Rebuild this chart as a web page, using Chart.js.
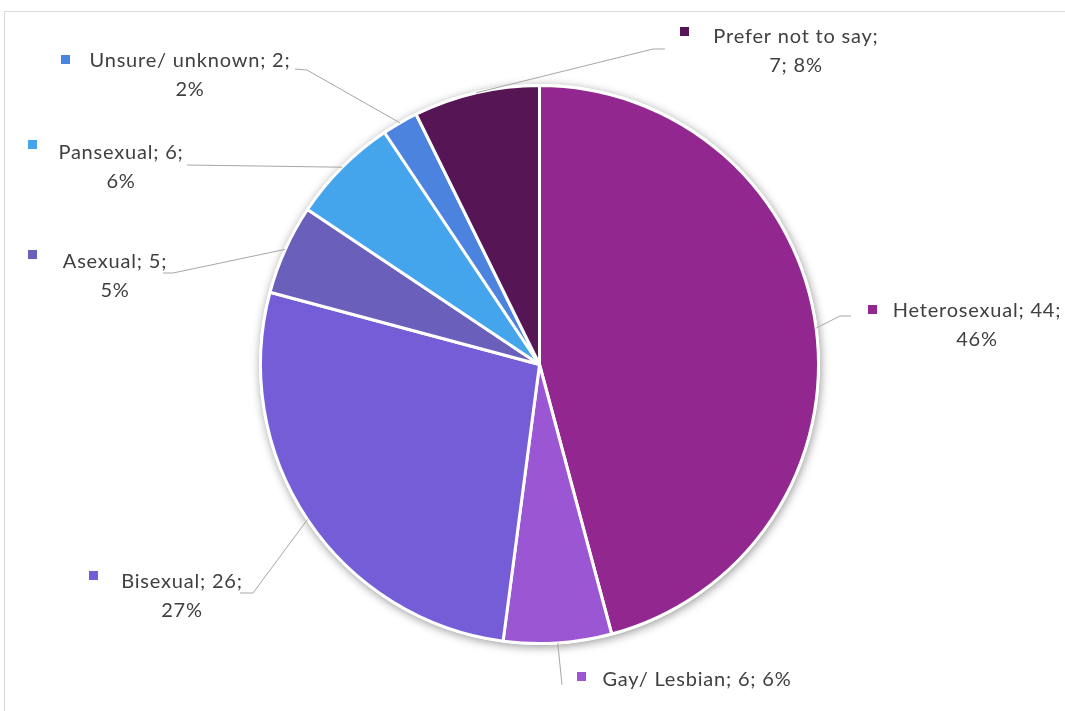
<!DOCTYPE html>
<html>
<head>
<meta charset="utf-8">
<script src="https://cdn.jsdelivr.net/npm/chart.js@4"></script>
<style>
  html, body { margin: 0; padding: 0; background: #fff; overflow: hidden; }
  #wrap { position: relative; width: 1065px; height: 711px; }
  #frame { position: absolute; left: 4px; top: 11px; width: 1100px; height: 800px; border: 1px solid #d9d9d9; }
  canvas { position: absolute; left: 0; top: 0; }
</style>
</head>
<body>
<div id="wrap">
  <div id="frame"></div>
  <canvas id="chartPie" width="1065" height="711"></canvas>
</div>
<script>
const categories = ["Heterosexual", "Gay/ Lesbian", "Bisexual", "Asexual", "Pansexual", "Unsure/ unknown", "Prefer not to say"];
const counts = [44, 6, 26, 5, 6, 2, 7];
const percents = ["46%", "6%", "27%", "5%", "6%", "2%", "8%"];
const colors = ["#92278f", "#9b57d3", "#755dd8", "#6a5fba", "#45a5ec", "#4c83de", "#561554"];

// where each label sits, and how its text wraps ("count", "name" or none)
const labelLayout = [
  { cx: 977, y: 311, wrap: "count", mx: 868, my: 305, elbow: [840, 316], end: [851, 316] },
  { cx: 697, y: 680, wrap: null, mx: 577, my: 672, elbow: null, end: [562, 685] },
  { cx: 182, y: 582, wrap: "count", mx: 89, my: 571, elbow: [253, 593], end: [240, 593] },
  { cx: 115, y: 262, wrap: "count", mx: 28, my: 250, elbow: [173, 273], end: [163, 273] },
  { cx: 121, y: 153, wrap: "count", mx: 28, my: 140, elbow: null, end: [187, 165] },
  { cx: 190, y: 61, wrap: "count", mx: 61, my: 55, elbow: [307, 70], end: [295, 69] },
  { cx: 796, y: 37, wrap: "name", mx: 680, my: 27, elbow: [653, 49], end: [665, 49] },
];

function labelLines(i) {
  const name = categories[i], n = counts[i], p = percents[i];
  const wrap = labelLayout[i].wrap;
  if (wrap === "count") return [`${name}; ${n};`, p];
  if (wrap === "name") return [`${name};`, `${n}; ${p}`];
  return [`${name}; ${n}; ${p}`];
}

// soft shadow under the whole pie
const pieShadow = {
  id: "pieShadow",
  beforeDatasetsDraw(chart) {
    const arc = chart.getDatasetMeta(0).data[0];
    if (!arc) return;
    const ctx = chart.ctx;
    ctx.save();
    ctx.shadowColor = "rgba(0,0,0,0.4)";
    ctx.shadowBlur = 10;
    ctx.shadowOffsetX = 1;
    ctx.shadowOffsetY = 2;
    ctx.fillStyle = "#fff";
    ctx.beginPath();
    ctx.arc(arc.x, arc.y, arc.outerRadius + 1.5, 0, Math.PI * 2);
    ctx.fill();
    ctx.restore();
  },
};

const sliceLabels = {
  id: "sliceLabels",
  afterDatasetsDraw(chart) {
    const ctx = chart.ctx;
    const arcs = chart.getDatasetMeta(0).data;
    ctx.save();
    arcs.forEach((arc, i) => {
      const lay = labelLayout[i];
      const mid = (arc.startAngle + arc.endAngle) / 2;
      const sx = arc.x + Math.cos(mid) * arc.outerRadius;
      const sy = arc.y + Math.sin(mid) * arc.outerRadius;

      ctx.strokeStyle = "#a6a6a6";
      ctx.lineWidth = 1;
      ctx.beginPath();
      ctx.moveTo(sx, sy);
      if (lay.elbow) ctx.lineTo(lay.elbow[0], lay.elbow[1]);
      ctx.lineTo(lay.end[0], lay.end[1]);
      ctx.stroke();

      ctx.fillStyle = colors[i];
      ctx.fillRect(lay.mx, lay.my, 9, 9);

      ctx.fillStyle = "#404040";
      ctx.font = "20px Lato";
      ctx.letterSpacing = "0.8px";
      ctx.textAlign = "center";
      ctx.textBaseline = "middle";
      labelLines(i).forEach((line, k) => {
        ctx.fillText(line, lay.cx, lay.y + k * 29);
      });
    });
    ctx.restore();
  },
};

new Chart(document.getElementById("chartPie"), {
  type: "pie",
  data: {
    labels: categories,
    datasets: [{
      data: counts,
      backgroundColor: colors,
      borderColor: "#fff",
      borderWidth: 3,
    }],
  },
  options: {
    responsive: false,
    animation: false,
    layout: { padding: { top: 84, bottom: 66, left: 259, right: 245 } },
    plugins: { legend: { display: false }, tooltip: { enabled: false } },
  },
  plugins: [pieShadow, sliceLabels],
});
</script>
</body>
</html>
